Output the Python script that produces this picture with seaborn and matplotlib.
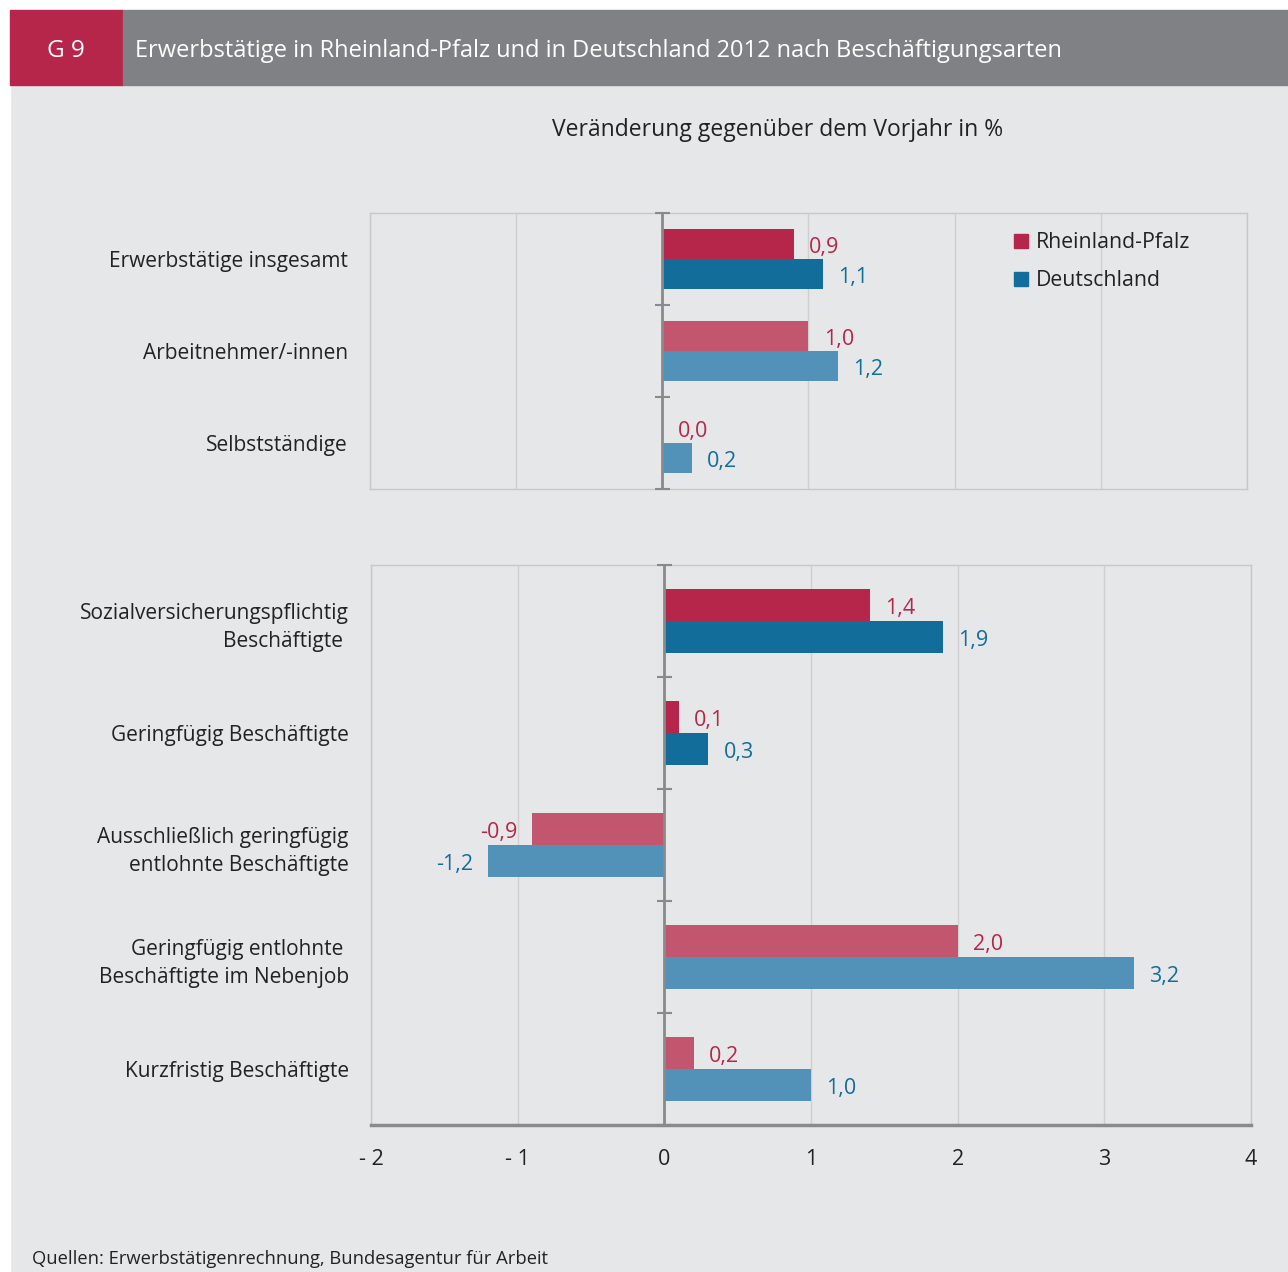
import matplotlib
matplotlib.use('Agg')
import matplotlib.pyplot as plt
from matplotlib.patches import Rectangle
import numpy as np
import pandas as pd
import seaborn as sns

# Daten oberes Feld
kat_oben = ['Erwerbstätige insgesamt', 'Arbeitnehmer/-innen', 'Selbstständige']
rp_oben = [0.9, 1.0, 0.0]
de_oben = [1.1, 1.2, 0.2]
dunkel_oben = [True, False, False]

# Daten unteres Feld
kat_unten = ['Sozialversicherungspflichtig\nBeschäftigte ',
             'Geringfügig Beschäftigte',
             'Ausschließlich geringfügig\nentlohnte Beschäftigte',
             'Geringfügig entlohnte \nBeschäftigte im Nebenjob',
             'Kurzfristig Beschäftigte']
rp_unten = [1.4, 0.1, -0.9, 2.0, 0.2]
de_unten = [1.9, 0.3, -1.2, 3.2, 1.0]
dunkel_unten = [True, True, False, False, False]

laender = ['Rheinland-Pfalz', 'Deutschland']
x_ticks = [-2, -1, 0, 1, 2, 3, 4]
x_labels = ['- 2', '- 1', '0', '1', '2', '3', '4']

titel = 'Erwerbstätige in Rheinland-Pfalz und in Deutschland 2012 nach Beschäftigungsarten'
untertitel = 'Veränderung gegenüber dem Vorjahr in %'
quelle = 'Quellen: Erwerbstätigenrechnung, Bundesagentur für Arbeit'

# Farben
rot, rot_hell = '#b5264a', '#c2566f'
blau, blau_hell = '#136d9a', '#5292b9'
grau_bg = '#e6e7e9'
achse = '#8a8a8a'
textfarbe = '#222222'

sns.set_style('white')
plt.rcParams['font.family'] = ['Open Sans', 'DejaVu Sans']

W, H = 1288, 1272
fig = plt.figure(figsize=(W / 100, H / 100), dpi=100, facecolor=grau_bg)


def fx(x):
    return x / W


def fy(y):
    return 1 - y / H


# weisse Raender + Kopfzeile
fig.patches.append(Rectangle((0, fy(10)), 1, 10 / H, transform=fig.transFigure, color='white'))
fig.patches.append(Rectangle((0, 0), fx(10), 1, transform=fig.transFigure, color='white'))
fig.patches.append(Rectangle((fx(10), fy(85)), 113 / W, 75 / H, transform=fig.transFigure, color=rot))
fig.patches.append(Rectangle((fx(123), fy(85)), 1 - fx(123), 75 / H, transform=fig.transFigure, color='#808184'))
fig.text(fx(66), fy(51), 'G 9', color='white', fontsize=17.5, ha='center', va='center')
fig.text(fx(135), fy(51), titel, color='white', fontsize=17, ha='left', va='center')
fig.text(fx(778), fy(130), untertitel, color=textfarbe, fontsize=16.5, ha='center', va='center')
fig.text(fx(32), fy(1259), quelle, color=textfarbe, fontsize=13.2, ha='left', va='center')


def fmt(v):
    return ('%.1f' % v).replace('.', ',')


def panel(ax, kat, rp, de, dunkel, breite):
    df = pd.DataFrame({
        'Kategorie': kat * 2,
        'Wert': rp + de,
        'Land': [laender[0]] * len(kat) + [laender[1]] * len(kat),
    })
    sns.barplot(data=df, y='Kategorie', x='Wert', hue='Land', orient='h',
                width=breite, gap=0, errorbar=None, legend=False, saturation=1,
                palette=[rot, blau], ax=ax)
    for cont, (c_dunkel, c_hell), werte, tf in zip(ax.containers,
                                                   [(rot, rot_hell), (blau, blau_hell)],
                                                   [rp, de], [rot, blau]):
        for bar, d in zip(cont, dunkel):
            bar.set_facecolor(c_dunkel if d else c_hell)
            bar.set_edgecolor('none')
        texte = ax.bar_label(cont, labels=[fmt(v) for v in werte], padding=11,
                             color=tf, fontsize=15.5)
        for t in texte:
            t.xyann = (t.xyann[0], -2.5)
    n = len(kat)
    ax.set_facecolor(grau_bg)
    ax.set_xlim(-2, 4)
    ax.set_ylim(n - 0.5, -0.5)
    ax.set_xticks(x_ticks)
    ax.set_axisbelow(True)
    ax.grid(axis='x', color='#cfcfcf', lw=1)
    ax.grid(axis='y', visible=False)
    ax.axvline(0, color=achse, lw=2, zorder=5)
    ax.hlines(np.arange(n + 1) - 0.5, -0.05, 0.05, color=achse, lw=1.5, zorder=5, clip_on=False)
    ax.set_xlabel('')
    ax.set_ylabel('')
    ax.tick_params(axis='y', length=0, pad=16, labelsize=15, labelcolor=textfarbe)
    for lbl in ax.get_yticklabels():
        lbl.set_linespacing(1.45)
    for s in ax.spines.values():
        s.set_color('#c8c8c8')
        s.set_linewidth(1)


ax1 = fig.add_axes([fx(370), fy(489), 877 / W, 276 / H])
panel(ax1, kat_oben, rp_oben, de_oben, dunkel_oben, 0.66)
ax1.tick_params(axis='x', length=0, labelbottom=False)
handles = [Rectangle((0, 0), 1, 1, color=rot), Rectangle((0, 0), 1, 1, color=blau)]
ax1.legend(handles, laender, loc='upper right', bbox_to_anchor=(0.935, 0.93),
           frameon=False, handlelength=0.65, handleheight=0.65, handletextpad=0.35,
           labelspacing=0.8, borderaxespad=0, borderpad=0, fontsize=15.3,
           labelcolor=textfarbe)

ax2 = fig.add_axes([fx(371), fy(1125), 880 / W, 560 / H])
panel(ax2, kat_unten, rp_unten, de_unten, dunkel_unten, 0.57)
ax2.set_xticks(x_ticks, x_labels)
ax2.tick_params(axis='x', length=7, width=1.5, color=achse, pad=10,
                labelsize=15.5, labelcolor=textfarbe)
ax2.spines['bottom'].set_color(achse)
ax2.spines['bottom'].set_linewidth(2.5)

fig.savefig('out.png', dpi=100, facecolor=grau_bg)
